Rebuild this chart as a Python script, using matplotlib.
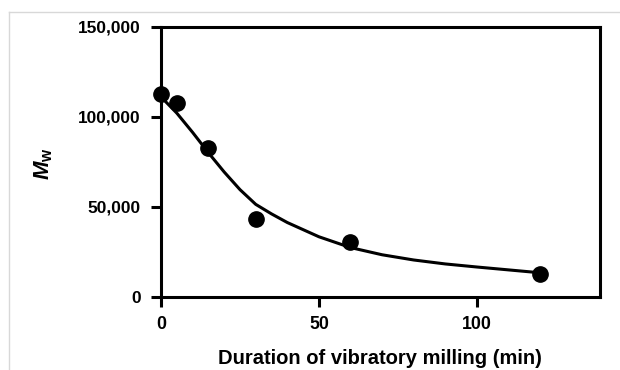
import matplotlib
matplotlib.use("Agg")
import matplotlib.pyplot as plt
from matplotlib.lines import Line2D
from matplotlib.ticker import FuncFormatter

# Measured data
time_min = [0, 5, 15, 30, 60, 120]
mw = [112600, 107400, 82600, 43200, 30300, 12500]

# Fitted curve
curve_x = [0, 5, 10, 15, 20, 25, 30, 35, 40, 50, 60, 70, 80, 90, 100, 110, 120]
curve_y = [111000, 102000, 91300, 80000, 69300, 59500, 51300, 46000, 41200,
           33300, 27300, 23300, 20400, 18200, 16500, 14900, 13300]

x_ticks = [0, 50, 100]
y_ticks = [0, 50000, 100000, 150000]

plt.rcParams['font.family'] = ['Liberation Sans', 'DejaVu Sans']
plt.rcParams['mathtext.fontset'] = 'custom'
plt.rcParams['mathtext.it'] = 'Liberation Sans:bold:italic'
plt.rcParams['mathtext.rm'] = 'Liberation Sans:bold'

fig = plt.figure(figsize=(6.2, 3.7), dpi=100)
ax = fig.add_axes([161/620, 1-296.7/370, (600-161)/620, (296.7-26.7)/370])

ax.plot(curve_x, curve_y, color='black', lw=2.2, zorder=2)
ax.plot(time_min, mw, 'o', color='black', markersize=11, zorder=3, clip_on=False)

ax.set_xlim(0, 139)
ax.set_ylim(0, 150000)
ax.set_xticks(x_ticks)
ax.set_yticks(y_ticks)
ax.yaxis.set_major_formatter(FuncFormatter(lambda v, p: f"{int(v):,}"))

for s in ax.spines.values():
    s.set_linewidth(2.2)
ax.tick_params(direction='out', length=7, width=2.2)
ax.tick_params(axis='x', labelsize=12.8, pad=7)
ax.tick_params(axis='y', labelsize=12.4, pad=7.5)
for lab in ax.get_xticklabels() + ax.get_yticklabels():
    lab.set_fontweight('bold')

fig.text(380/620, 1-364/370, 'Duration of vibratory milling (min)', ha='center', va='baseline',
         fontsize=14.5, fontweight='bold')
fig.text(44/620, 1-164/370, r'$M_{\mathrm{w}}$', rotation=90, ha='center', va='center',
         fontsize=16)

# thin frame border lines
fig.add_artist(Line2D([9/620, 1], [1-12/370, 1-12/370], color='#d8d8d8', lw=1))
fig.add_artist(Line2D([9/620, 9/620], [0, 1-12/370], color='#d8d8d8', lw=1))

fig.savefig('out.png', dpi=100)
